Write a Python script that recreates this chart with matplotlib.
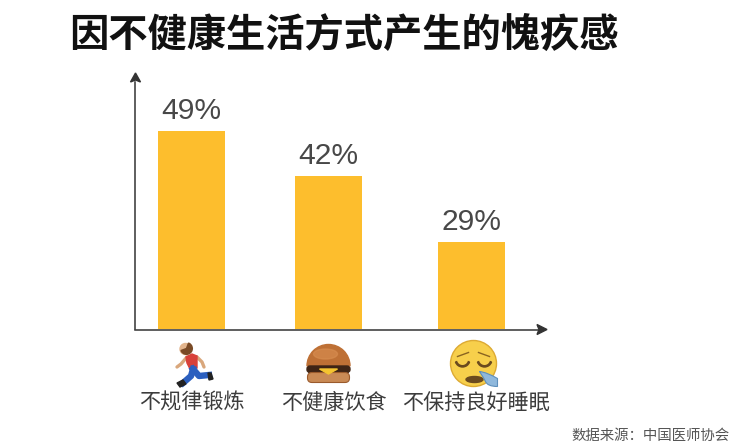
import matplotlib
matplotlib.use("Agg")
import matplotlib.pyplot as plt
from matplotlib.patches import Circle, Ellipse, Polygon, FancyBboxPatch, Wedge, PathPatch
from matplotlib.path import Path

plt.rcParams['font.family'] = ['Noto Sans CJK SC', 'DejaVu Sans']

title = "因不健康生活方式产生的愧疚感"
categories = ["不规律锻炼", "不健康饮食", "不保持良好睡眠"]
value_labels = ["49%", "42%", "29%"]
# The drawn bars in the picture are not proportional to their labels: heights as drawn, on the 49% scale
drawn_heights = [49, 37.9, 21.5]
positions = [0, 1, 2.044]
source = "数据来源：中国医师协会"

W, H = 735, 447
fig = plt.figure(figsize=(W/100, H/100), dpi=100, facecolor="white")

L, R, T, B = 135, 540, 80, 329
ax = fig.add_axes([L/W, 1-B/H, (R-L)/W, (B-T)/H])
ppx = 137.0
ppy = 198/49
ax.set_xlim(-(191.5-L)/ppx, (R-191.5)/ppx)
ax.set_ylim(0, (B-T)/ppy)
ax.patch.set_alpha(0)
ax.bar(positions, drawn_heights, width=67/ppx, color="#FDBE2D", zorder=2)
for s in ax.spines.values():
    s.set_visible(False)
ax.set_xticks([]); ax.set_yticks([])
for x, h, lab in zip(positions, drawn_heights, value_labels):
    ax.annotate(lab, (x, h), xytext=(0, 12), textcoords="offset pixels", ha="center", va="baseline",
                fontsize=21.6, color="#484848", family="Liberation Sans")

# overlay in pixel coordinates for axes arrows, emoji and captions
ov = fig.add_axes([0, 0, 1, 1])
ov.set_xlim(0, W); ov.set_ylim(H, 0); ov.axis("off"); ov.patch.set_alpha(0)
c = "#333333"
ov.plot([135.5, 135.5], [329, 82], color=c, lw=1.1, zorder=5)
ov.plot([135, 538], [329.5, 329.5], color=c, lw=1.1, zorder=5)
ov.add_patch(Polygon([[135.5, 73], [130.5, 82], [135.5, 80], [140.5, 82]], color=c, zorder=5))
ov.add_patch(Polygon([[547, 329.5], [537, 324.5], [539, 329.5], [537, 334.5]], color=c, zorder=5))

ov.text(344, 35.5, title, ha="center", va="center", fontsize=28.3, fontweight="bold", color="#111111")
for x, lab in zip([191.5, 334, 476], categories):
    ov.text(x, 402.5, lab, ha="center", va="center", fontsize=15.2, color="#3c3c3c")
ov.text(730, 435.5, source, ha="right", va="center", fontsize=10.4, color="#555555")

# runner
skin = "#D9A77C"
ov.plot([187, 181, 177], [357, 364, 367], color=skin, lw=2.4, zorder=2, solid_capstyle="round")
ov.plot([197, 202, 204], [357, 362, 367], color=skin, lw=2.4, zorder=2, solid_capstyle="round")
ov.add_patch(Polygon([[186, 357], [192, 354], [197, 356], [197, 368], [190, 369], [187, 363]], color="#D8413A", zorder=3))
ov.plot([193, 191, 183], [369, 376, 383], color="#2B5FBF", lw=4.6, zorder=3)
ov.plot([193, 199, 209], [369, 376, 375], color="#2B5FBF", lw=4.6, zorder=3)
ov.add_patch(Circle((185.5, 349), 5.5, color="#E3B58D", zorder=4))
ov.add_patch(Wedge((186.5, 348.5), 5.8, -70, 160, color="#7A4A26", zorder=5))
ov.add_patch(Polygon([[177, 383], [183, 380], [186, 384], [180, 387]], color="#222222", zorder=4))
ov.add_patch(Polygon([[208, 373], [211, 373], [213, 379], [209, 380]], color="#222222", zorder=4))

# burger
bx = 328.5
ov.add_patch(Wedge((bx, 366), 21.5, 180, 360, color="#BE7035", zorder=3))
ov.add_patch(Ellipse((bx-3, 354), 24, 10, color="#D98F52", zorder=4, alpha=.6))
ov.add_patch(FancyBboxPatch((bx-21.5, 366), 43, 6.5, boxstyle="round,pad=0,rounding_size=3", color="#3E2415", zorder=4))
ov.add_patch(Polygon([[bx-9, 369], [bx+9, 369], [bx, 374]], color="#F4C430", zorder=6))
ov.add_patch(FancyBboxPatch((bx-21, 372.5), 42, 10, boxstyle="round,pad=0,rounding_size=4.5", fc="#C98A55", ec="#9A5A2C", lw=.8, zorder=5))

# sleepy face
fx, fy = 473.5, 363.5
ov.add_patch(Circle((fx, fy), 23, color="#F7CF4B", ec="#DDAA33", lw=1, zorder=3))
for sgn in (-1, 1):
    ov.add_patch(Wedge((fx+sgn*11, fy-4), 7.5, 20, 160, width=1.3, color="#6B4A1E", zorder=4))
    ov.plot([fx+sgn*5, fx+sgn*16], [fy-11, fy-7], color="#8A6420", lw=1, zorder=4)
ov.add_patch(Ellipse((fx+1, fy+16), 17, 6, color="#6B4A1E", zorder=4))
drop = Path([(fx+6, fy+8), (fx+14, fy+9), (fx+24, fy+15), (fx+24, fy+19), (fx+24, fy+23), (fx+14, fy+23), (fx+12, fy+18), (fx+10, fy+14), (fx+6, fy+8)],
            [Path.MOVETO, Path.CURVE3, Path.CURVE3, Path.CURVE3, Path.CURVE3, Path.CURVE3, Path.CURVE3, Path.CURVE3, Path.CURVE3])
ov.add_patch(PathPatch(drop, fc="#8FB8DC", ec="#5E8FBB", lw=.8, zorder=5))

fig.savefig("out.png", dpi=100)
